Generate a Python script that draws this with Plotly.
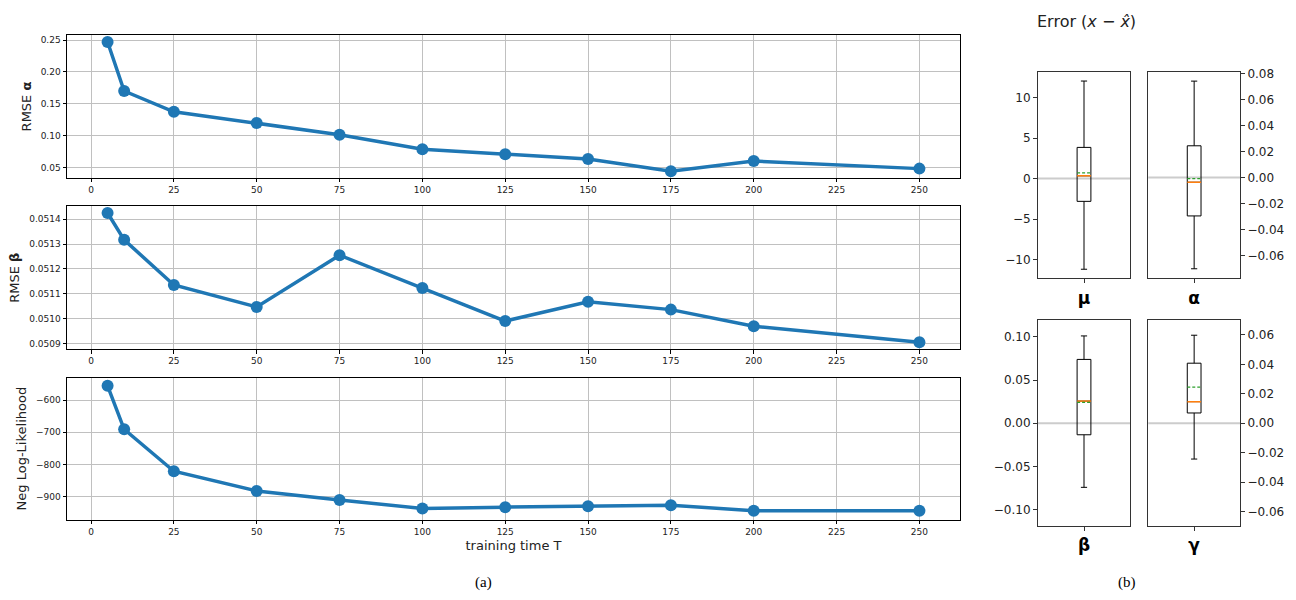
import plotly.graph_objects as go

# ---------------- data ----------------
T = [5, 10, 25, 50, 75, 100, 125, 150, 175, 200, 250]
rmse_alpha = [0.2469, 0.170, 0.1375, 0.120, 0.1016, 0.0788, 0.0711, 0.0633, 0.0442, 0.0603, 0.0484]
rmse_beta = [0.051425, 0.051317, 0.051135, 0.051047, 0.051255, 0.051123, 0.050990,
             0.051068, 0.051036, 0.050969, 0.050905]
neg_ll = [-555.6, -691, -821.4, -882.5, -911, -937, -933, -930, -927, -944, -944]

box_params = ["<b>μ</b>", "<b>α</b>", "<b>β</b>", "<b>γ</b>"]
box_lower = [-11.2, -0.0701, -0.0743, -0.0243]
box_q1 = [-2.82, -0.0295, -0.0134, 0.0070]
box_median = [0.33, -0.0036, 0.0256, 0.0147]
box_mean = [0.70, -0.0008, 0.0241, 0.0246]
box_q3 = [3.84, 0.0244, 0.0739, 0.0408]
box_upper = [12.03, 0.0741, 0.1011, 0.0598]

W, H = 1296, 600
BLUE = "#1f77b4"
GRID = "#c0c0c0"
FONT = "DejaVu Sans"

fig = go.Figure()


def px_x(a, b):
    return [a / W, b / W]


def px_y(top, bottom):
    return [1 - bottom / H, 1 - top / H]


# ---------------- left line panels ----------------
left_dom = px_x(67, 960)
line_specs = [
    ("x", "y", rmse_alpha, (30.7, 174), [0.0344, 0.2572], 0.05, ".2f", "RMSE <b>α</b>"),
    ("x2", "y2", rmse_beta, (203, 347), [0.050877, 0.051452], 0.0001, ".4f", "RMSE <b>β</b>"),
    ("x3", "y3", neg_ll, (375.7, 519), [-972, -530], 100, "d", "Neg Log-Likelihood"),
]
for i, (xa, ya, vals, (top, bot), yr, dt, fmt, title) in enumerate(line_specs):
    fig.add_trace(go.Scatter(x=T, y=vals, mode="lines+markers", xaxis=xa, yaxis=ya,
                             line=dict(color=BLUE, width=3.5),
                             marker=dict(color=BLUE, size=12), showlegend=False))
    xk = "xaxis" if i == 0 else f"xaxis{i+1}"
    yk = "yaxis" if i == 0 else f"yaxis{i+1}"
    fig.layout[xk] = dict(domain=left_dom, anchor=ya, range=[-7.25, 262.25],
                          tickmode="array", tickvals=list(range(0, 251, 25)),
                          showgrid=True, gridcolor=GRID, gridwidth=1,
                          showline=True, linecolor="black", linewidth=1, mirror=True,
                          ticks="outside", ticklen=3.5, tickcolor="black",
                          tickfont=dict(size=9, family=FONT, color="#222"),
                          zeroline=False,
                          title=dict(text="training time T", font=dict(size=13, family=FONT, color="#222"),
                                     standoff=4) if i == 2 else None)
    fig.layout[yk] = dict(domain=px_y(top, bot), anchor=xa, range=yr, dtick=dt, tick0=0,
                          tickformat=fmt,
                          showgrid=True, gridcolor=GRID, gridwidth=1,
                          showline=True, linecolor="black", linewidth=1, mirror=True,
                          ticks="outside", ticklen=3.5, tickcolor="black",
                          tickfont=dict(size=9, family=FONT, color="#222"),
                          zeroline=False,
                          title=dict(text=title, font=dict(size=13, family=FONT, color="#222"),
                                     standoff=6))

# ---------------- right box panels ----------------
box_geom = [
    ((1038, 1130), (67.7, 275.7), [-12.33, 13.13], 5, "d", "left"),
    ((1148.3, 1240), (67.7, 275.7), [-0.0775, 0.081], 0.02, ".2f", "right"),
    ((1038, 1130), (317.7, 525.3), [-0.119, 0.1195], 0.05, ".2f", "left"),
    ((1148.3, 1240), (317.7, 525.3), [-0.0697, 0.0701], 0.02, ".2f", "right"),
]
BW = 0.15
for j in range(4):
    n = j + 4
    xa, ya = f"x{n}", f"y{n}"
    (xl, xr), (yt, yb), yr, dt, fmt, side = box_geom[j]
    fig.add_trace(go.Box(x=[1], q1=[box_q1[j]], median=[box_median[j]], q3=[box_q3[j]],
                         lowerfence=[box_lower[j]], upperfence=[box_upper[j]],
                         xaxis=xa, yaxis=ya, width=BW, whiskerwidth=0.45,
                         boxpoints=False, fillcolor="rgba(0,0,0,0)",
                         line=dict(color="black", width=1), showlegend=False,
                         hoverinfo="skip"))
    # median (orange) and mean (green dashed)
    fig.add_trace(go.Scatter(x=[1 - BW / 2, 1 + BW / 2], y=[box_median[j]] * 2, mode="lines",
                             xaxis=xa, yaxis=ya, line=dict(color="#ff7f0e", width=1.5),
                             showlegend=False, hoverinfo="skip"))
    fig.add_trace(go.Scatter(x=[1 - BW / 2, 1 + BW / 2], y=[box_mean[j]] * 2, mode="lines",
                             xaxis=xa, yaxis=ya, line=dict(color="#2ca02c", width=1.3, dash="3px,2px"),
                             showlegend=False, hoverinfo="skip"))
    fig.add_shape(type="line", xref=f"{xa} domain", yref=ya, x0=0, x1=1, y0=0, y1=0,
                  line=dict(color="#cccccc", width=2), layer="below")
    fig.layout[f"xaxis{n}"] = dict(domain=px_x(xl, xr), anchor=ya, range=[0.5, 1.5],
                                   tickmode="array", tickvals=[1], ticktext=[box_params[j]],
                                   showgrid=False, zeroline=False,
                                   showline=True, linecolor="#333", linewidth=1, mirror=True,
                                   ticks="outside", ticklen=4, tickcolor="#333",
                                   tickfont=dict(size=17, family=FONT, color="black"))
    fig.layout[f"yaxis{n}"] = dict(domain=px_y(yt, yb), anchor=xa, range=yr, dtick=dt, tick0=0,
                                   tickformat=fmt, side=side,
                                   showgrid=False, zeroline=False,
                                   showline=True, linecolor="#333", linewidth=1, mirror=True,
                                   ticks="outside", ticklen=4, tickcolor="#333",
                                   tickfont=dict(size=12, family=FONT, color="#222"))

# ---------------- annotations ----------------
fig.add_annotation(text="Error (<i>x</i> − <i>x̂</i>)", x=1138 / W, y=1 - 17 / H,
                   xref="paper", yref="paper", showarrow=False, yanchor="middle",
                   font=dict(size=16, family=FONT, color="#222"))
fig.add_annotation(text="(a)", x=483 / W, y=1 - 582 / H, xref="paper", yref="paper",
                   showarrow=False, yanchor="middle",
                   font=dict(size=15, family="Liberation Serif", color="black"))
fig.add_annotation(text="(b)", x=1138 / W, y=1 - 582 / H, xref="paper", yref="paper",
                   showarrow=False, yanchor="middle",
                   font=dict(size=15, family="Liberation Serif", color="black"))

fig.update_layout(width=W, height=H, margin=dict(l=0, r=0, t=0, b=0),
                  plot_bgcolor="white", paper_bgcolor="white",
                  font=dict(family=FONT), showlegend=False)

fig.write_html("out.html", config={"displayModeBar": False},
               post_script="document.body.style.margin='0';document.body.style.overflow='hidden';")
